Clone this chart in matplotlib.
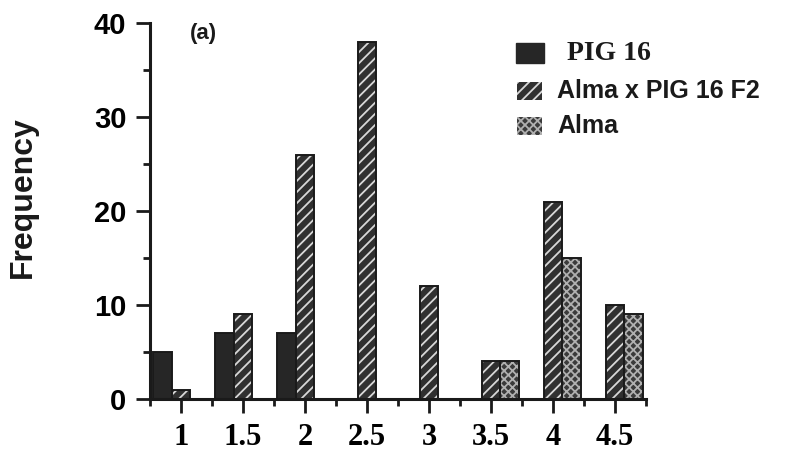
import matplotlib.pyplot as plt
import matplotlib.patches as mpatches
import numpy as np

plt.rcParams['hatch.linewidth'] = 1.3

# data
scores = [1, 1.5, 2, 2.5, 3, 3.5, 4, 4.5]
score_labels = ['1', '1.5', '2', '2.5', '3', '3.5', '4', '4.5']
pig16 = [5, 7, 7, 0, 0, 0, 0, 0]
f2 = [1, 9, 26, 38, 12, 4, 21, 10]
alma = [0, 0, 0, 0, 0, 4, 15, 9]
y_ticks = [0, 10, 20, 30, 40]

sans = 'Liberation Sans'
serif = 'Liberation Serif'

fig = plt.figure(figsize=(7.87, 4.57), dpi=100)
ax = fig.add_axes([150 / 787, 1 - 399 / 457, 496 / 787, 376 / 457])

x = np.array(scores)
w = 0.15
series = [
    (pig16, -w, '#262626', None, '#262626'),
    (f2, 0, '#303030', '///', '#d8d8d8'),
    (alma, w, '#3a3a3a', 'xxxx', '#b0b0b0'),
]
for vals, off, face, hatch, hcol in series:
    ax.bar(x + off, vals, width=w, color=face, edgecolor=hcol, hatch=hatch, linewidth=0)
    ax.bar(x + off, vals, width=w, fill=False, edgecolor='#1a1a1a', linewidth=1.4)

ax.set_xlim(0.75, 4.75)
ax.set_ylim(0, 40)
ax.set_xticks(scores)
ax.set_xticklabels(score_labels, fontfamily=serif, fontweight='bold', fontsize=22)
ax.set_xticks(np.arange(0.75, 4.8, 0.5), minor=True)
ax.set_yticks(y_ticks)
ax.set_yticklabels([str(v) for v in y_ticks], fontfamily=sans, fontweight='bold', fontsize=21)
ax.set_yticks([5, 15, 25, 35], minor=True)

ax.tick_params(which='major', length=10, width=2, color='#1a1a1a', pad=7)
ax.tick_params(which='minor', length=5, width=2, color='#1a1a1a')
for s in ['top', 'right']:
    ax.spines[s].set_visible(False)
for s in ['left', 'bottom']:
    ax.spines[s].set_linewidth(2.2)
    ax.spines[s].set_color('#1a1a1a')

ax.set_ylabel('Frequency', fontfamily=sans, fontweight='bold', fontsize=23, color='#1a1a1a')
ax.yaxis.set_label_coords(-0.226, 0.537)

# panel tag
fig.text(203 / 787, 1 - 33 / 457, '(a)', fontfamily=sans, fontweight='bold', fontsize=16,
         ha='center', va='center', color='#1a1a1a')

# legend drawn by hand
def fx(px):
    return px / 787

def fy(py):
    return 1 - py / 457

fig.add_artist(mpatches.Rectangle((fx(516), fy(63)), 28 / 787, 20 / 457,
                                  transform=fig.transFigure, facecolor='#262626', edgecolor='#262626'))
fig.text(fx(567), fy(53), 'PIG 16', fontfamily=serif, fontweight='bold', fontsize=20,
         va='center', ha='left', color='#1a1a1a')

legend_rows = [('Alma x PIG 16 F2', '///', '#303030', '#d8d8d8', 91),
               ('Alma', 'xxxx', '#3a3a3a', '#b0b0b0', 126)]
for label, hatch, face, hcol, yc in legend_rows:
    fig.add_artist(mpatches.Rectangle((fx(517), fy(yc + 9)), 25 / 787, 18 / 457,
                                      transform=fig.transFigure, facecolor=face,
                                      edgecolor=hcol, hatch=hatch, linewidth=0))
    fig.text(fx(557), fy(yc), label, fontfamily=sans, fontweight='bold', fontsize=18,
             va='center', ha='left', color='#1a1a1a')

fig.savefig('out.png', dpi=100)
